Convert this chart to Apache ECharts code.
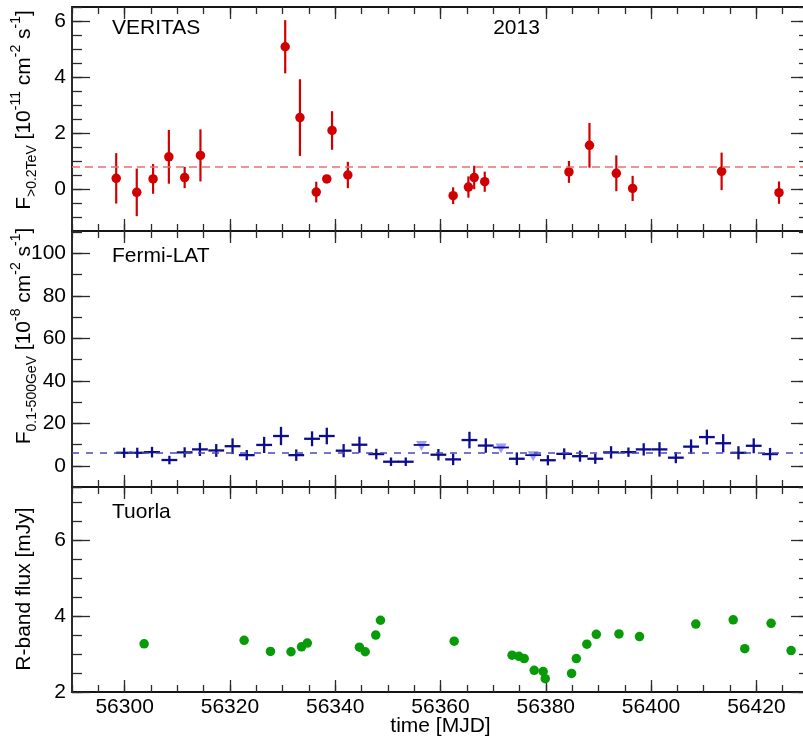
<!DOCTYPE html>
<html><head><meta charset="utf-8">
<script src="https://cdn.jsdelivr.net/npm/echarts@6/dist/echarts.min.js"></script>
<style>html,body{margin:0;padding:0;background:#fff}#c{width:803px;height:744px}</style>
</head><body><div id="c"></div>
<script>
// ---------------- data ----------------
const veritasT = [56298.4, 56302.3, 56305.4, 56308.4, 56311.4, 56314.4, 56330.5, 56333.3, 56336.4, 56338.4, 56339.4, 56342.4,
                  56362.4, 56365.3, 56366.4, 56368.4, 56384.4, 56388.3, 56393.4, 56396.5, 56413.4, 56424.3];
const veritasF = [0.38, -0.12, 0.36, 1.15, 0.41, 1.2, 5.08, 2.55, -0.11, 0.36, 2.09, 0.5,
                  -0.24, 0.07, 0.41, 0.26, 0.61, 1.56, 0.56, 0.02, 0.63, -0.13];
const veritasE = [0.9, 0.85, 0.53, 0.96, 0.38, 0.93, 0.95, 1.37, 0.37, 0.12, 0.69, 0.47,
                  0.3, 0.38, 0.42, 0.36, 0.39, 0.8, 0.64, 0.45, 0.67, 0.4];
const veritasMean = 0.8;

const fermiT = [56299.9, 56302.4, 56305.2, 56308.5, 56311.4, 56314.3, 56317.4, 56320.5, 56323.2, 56326.5,
                56329.7, 56332.6, 56335.6, 56338.4, 56341.6, 56344.6, 56347.8, 56350.6, 56353.4, 56359.6,
                56362.4, 56365.5, 56368.6, 56374.5, 56380.4, 56383.5, 56386.5, 56389.4, 56392.4, 56395.7,
                56398.6, 56401.6, 56404.7, 56407.6, 56410.6, 56413.7, 56416.6, 56419.5, 56422.6];
const fermiF = [6.1, 6.1, 6.4, 2.7, 6.3, 7.7, 7.2, 9.2, 5.0, 9.8,
                14.0, 5.0, 12.7, 14.0, 7.1, 9.9, 5.5, 1.9, 1.9, 5.2,
                3.0, 12.1, 9.5, 3.3, 2.6, 5.6, 4.5, 3.3, 6.3, 6.4,
                7.7, 7.7, 3.8, 9.0, 13.5, 10.6, 6.1, 9.4, 5.5];
const fermiE = [2.4, 2.4, 2.5, 2.0, 2.4, 3.1, 3.0, 3.7, 2.4, 3.8,
                4.3, 2.7, 3.5, 3.9, 3.1, 3.8, 2.5, 2.0, 2.0, 2.7,
                2.7, 3.9, 3.4, 3.0, 2.4, 2.6, 2.6, 2.4, 2.9, 2.2,
                2.9, 3.4, 2.6, 3.4, 3.5, 4.3, 3.1, 3.5, 2.9];
const fermiHalfBin = 1.5;
const fermiUlT = [56356.4, 56371.5, 56377.6];
const fermiUlF = [9.8, 8.6, 5.0];
const fermiMean = 6.1;

const tuorlaT = [56303.7, 56322.7, 56327.7, 56331.6, 56333.6, 56334.7, 56344.6, 56345.7, 56347.7, 56348.6,
                 56362.6, 56373.6, 56374.9, 56375.9, 56377.8, 56379.5, 56379.9, 56384.9, 56385.8, 56387.8,
                 56389.6, 56393.9, 56397.8, 56408.5, 56415.6, 56417.8, 56422.8, 56426.6];
const tuorlaF = [3.27, 3.36, 3.07, 3.06, 3.19, 3.29, 3.18, 3.06, 3.5, 3.89,
                 3.34, 2.97, 2.94, 2.88, 2.57, 2.54, 2.35, 2.49, 2.88, 3.26,
                 3.52, 3.53, 3.46, 3.79, 3.9, 3.14, 3.81, 3.09];

const xTickLabels = [56300, 56320, 56340, 56360, 56380, 56400, 56420];
const yTickLabelsTop = [0, 2, 4, 6];
const yTickLabelsMid = [0, 20, 40, 60, 80, 100];
const yTickLabelsBot = [2, 4, 6];

// ---------------- layout / style ----------------
const FONT = '"Liberation Sans", Arial, Helvetica, sans-serif';
const X_MIN = 56290, X_MAX = 56430;
const panels = [
  {top: 7,   height: 224, min: -1.5, max: 6.5,   step: 0.5, major: yTickLabelsTop},
  {top: 231, height: 256, min: -10,  max: 110.5, step: 10,  major: yTickLabelsMid},
  {top: 487, height: 205, min: 2,    max: 7.4,   step: 0.5, major: yTickLabelsBot}
];
const TICK = {color: '#2a2a2a', width: 1.3};
const labelStyle = {show: true, color: '#000', fontSize: 21, fontFamily: FONT,
                    formatter: v => String(v)};

function mkAxis(grid, pos, min, max, o) {
  const a = {
    type: 'value', gridIndex: grid, position: pos, min: min, max: max,
    axisLine: {show: false, onZero: false}, splitLine: {show: false},
    axisTick: {show: true, inside: true, length: o.len, lineStyle: TICK},
    axisLabel: {show: false}
  };
  if (o.custom) a.axisTick.customValues = o.custom; else a.interval = o.interval;
  if (o.labels) a.axisLabel = Object.assign({}, labelStyle, {customValues: o.labels, margin: o.margin});
  return a;
}

const grids = [], xAxes = [], yAxes = [];
panels.forEach((p, g) => {
  grids.push({left: 72, right: -6, top: p.top, height: p.height, show: true,
              borderColor: '#151515', borderWidth: 1.8, outerBoundsMode: 'none'});
  ['bottom', 'top'].forEach(pos => {
    xAxes.push(mkAxis(g, pos, X_MIN, X_MAX, {interval: 5, len: 7}));
    xAxes.push(mkAxis(g, pos, X_MIN, X_MAX, {custom: xTickLabels, len: 12,
      labels: (g === 2 && pos === 'bottom') ? xTickLabels : null, margin: 5}));
  });
  ['left', 'right'].forEach(pos => {
    yAxes.push(mkAxis(g, pos, p.min, p.max, {interval: p.step, len: 10}));
    yAxes.push(mkAxis(g, pos, p.min, p.max, {custom: p.major, len: 18,
      labels: pos === 'left' ? p.major : null, margin: 6}));
  });
});
// x-axis title
Object.assign(xAxes[8], {name: 'time [MJD]', nameLocation: 'middle', nameGap: 24,
  nameTextStyle: {color: '#000', fontSize: 21, fontFamily: FONT, verticalAlign: 'top'}});

const RED = '#d10000', BLUE = '#0c0c8e', LBLUE = '#9a9aff', GREEN = '#079b07';

function dashLine(v, color, dash) {
  return {silent: true, symbol: 'none', label: {show: false}, animation: false,
          lineStyle: {type: dash, color: color, width: 1.5, opacity: 1},
          emphasis: {disabled: true}, data: [{yAxis: v}]};
}

const series = [
  // VERITAS
  {type: 'custom', xAxisIndex: 0, yAxisIndex: 0, z: 3,
   data: veritasT.map((t, i) => [t, veritasF[i], veritasE[i]]),
   encode: {x: 0, y: 1},
   renderItem: (params, api) => {
     const x = api.value(0), y = api.value(1), e = api.value(2);
     const a = api.coord([x, y - e]), b = api.coord([x, y + e]);
     return {type: 'line', shape: {x1: a[0], y1: a[1], x2: b[0], y2: b[1]},
             style: {stroke: RED, lineWidth: 2.2}};
   }},
  {type: 'scatter', xAxisIndex: 0, yAxisIndex: 0, z: 4, symbol: 'circle', symbolSize: 9.5,
   itemStyle: {color: RED, opacity: 1}, data: veritasT.map((t, i) => [t, veritasF[i]]),
   markLine: dashLine(veritasMean, '#e87070', [8, 5])},
  // Fermi-LAT
  {type: 'custom', xAxisIndex: 4, yAxisIndex: 4, z: 4,
   data: fermiT.map((t, i) => [t, fermiF[i], fermiE[i]]),
   encode: {x: 0, y: 1},
   markLine: dashLine(fermiMean, '#4848b8', [7, 7]),
   renderItem: (params, api) => {
     const x = api.value(0), y = api.value(1), e = api.value(2);
     const l = api.coord([x - fermiHalfBin, y]), r = api.coord([x + fermiHalfBin, y]);
     const d = api.coord([x, y - e]), u = api.coord([x, y + e]);
     return {type: 'group', children: [
       {type: 'line', shape: {x1: l[0], y1: l[1], x2: r[0], y2: r[1]}, style: {stroke: BLUE, lineWidth: 2.3}},
       {type: 'line', shape: {x1: d[0], y1: d[1], x2: u[0], y2: u[1]}, style: {stroke: BLUE, lineWidth: 2.3}}
     ]};
   }},
  {type: 'custom', xAxisIndex: 4, yAxisIndex: 4, z: 4,
   data: fermiUlT.map((t, i) => [t, fermiUlF[i]]),
   encode: {x: 0, y: 1},
   renderItem: (params, api) => {
     const x = api.value(0), y = api.value(1);
     const l = api.coord([x - fermiHalfBin, y]), r = api.coord([x + fermiHalfBin, y]);
     const c = api.coord([x, y]);
     return {type: 'group', children: [
       {type: 'polygon', shape: {points: [[c[0] - 5.5, c[1] - 4], [c[0] + 5.5, c[1] - 4], [c[0], c[1] + 6]]},
        style: {fill: LBLUE}},
       {type: 'line', shape: {x1: l[0], y1: l[1], x2: r[0], y2: r[1]}, style: {stroke: BLUE, lineWidth: 1.8}}
     ]};
   }},
  // Tuorla
  {type: 'scatter', xAxisIndex: 8, yAxisIndex: 8, z: 4, symbol: 'circle', symbolSize: 9.5,
   itemStyle: {color: GREEN, opacity: 1}, data: tuorlaT.map((t, i) => [t, tuorlaF[i]])}
];

const mainRich = {
  m: {fontSize: 21, fontFamily: FONT, lineHeight: 30, fill: '#000'},
  sub: {fontSize: 14, fontFamily: FONT, lineHeight: 14, verticalAlign: 'bottom', fill: '#000'},
  sup: {fontSize: 14, fontFamily: FONT, lineHeight: 14, verticalAlign: 'top', fill: '#000'}
};
function txt(x, y, s, align) {
  return {type: 'text', x: x, y: y, silent: true,
          style: {text: s, fill: '#000', font: '21px ' + FONT, align: align || 'left', verticalAlign: 'middle'}};
}
const graphic = [
  txt(112, 28, 'VERITAS'),
  txt(516.5, 28, '2013', 'center'),
  txt(112, 256, 'Fermi-LAT'),
  txt(112, 512, 'Tuorla'),
  {type: 'text', x: 24, y: 110, rotation: Math.PI / 2, silent: true,
   style: {text: '{m|F}{sub|>0.2TeV}{m| [10}{sup|-11}{m| cm}{sup|-2}{m| s}{sup|-1}{m|]}',
           rich: mainRich, align: 'center', verticalAlign: 'middle'}},
  {type: 'text', x: 24, y: 336, rotation: Math.PI / 2, silent: true,
   style: {text: '{m|F}{sub|0.1-500GeV}{m| [10}{sup|-8}{m| cm}{sup|-2}{m| s}{sup|-1}{m|]}',
           rich: mainRich, align: 'center', verticalAlign: 'middle'}},
  {type: 'text', x: 24, y: 589, rotation: Math.PI / 2, silent: true,
   style: {text: 'R-band flux [mJy]', fill: '#000', font: '21px ' + FONT, align: 'center', verticalAlign: 'middle'}}
];

const chart = echarts.init(document.getElementById('c'), null, {renderer: 'canvas'});
chart.setOption({
  animation: false,
  backgroundColor: '#fff',
  grid: grids, xAxis: xAxes, yAxis: yAxes, series: series, graphic: graphic,
  tooltip: {show: false}
});
</script>
</body></html>
